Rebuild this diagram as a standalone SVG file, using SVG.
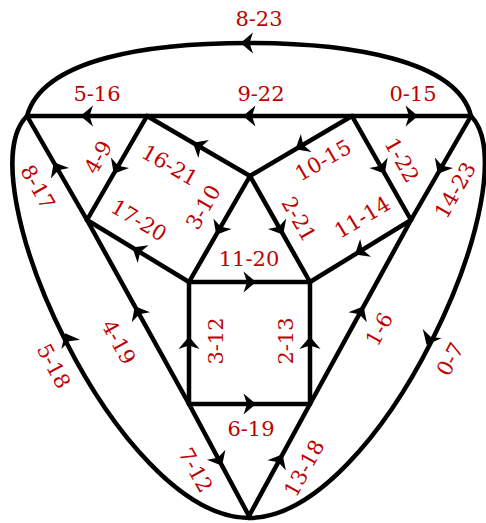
<svg xmlns="http://www.w3.org/2000/svg" xmlns:xlink="http://www.w3.org/1999/xlink" width="486" height="523" viewBox="0 0 486 523">
<style>
.e{fill:none;stroke:#000;stroke-width:4.5;stroke-linecap:round;stroke-linejoin:round}
.a{fill:#000;stroke:none}
.v{fill:#000;stroke:none}
.t{font-family:"DejaVu Serif","Liberation Serif",serif;font-size:21px;fill:#c00000;text-anchor:middle}
</style>
<defs>
<path id="ah" d="M6.5,0 L-6,-10.5 L-2.5,0 L-6,10.5 Z"/>
</defs>
<rect width="486" height="523" fill="#fff"/>
<g id="connectors">
<g id="e8-23"><path class="e" d="M27,116 C43,58 150,43 249,43 C350,43 457,60 471,116"/><use href="#ah" class="a" transform="translate(247,43) rotate(180)"/></g>
<g id="e5-18"><path class="e" d="M27,116 C-36,178 118,518 249,518"/><use href="#ah" class="a" transform="translate(68,339) rotate(243.4)"/></g>
<g id="e0-7"><path class="e" d="M471,116 C532,178 380,518 249,518"/><use href="#ah" class="a" transform="translate(429.5,339) rotate(116.5)"/></g>
<g id="e5-16"><path class="e" d="M27,116 L147,116"/><use href="#ah" class="a" transform="translate(87,116) rotate(180)"/></g>
<g id="e9-22"><path class="e" d="M147,116 L352,116"/><use href="#ah" class="a" transform="translate(249.5,116) rotate(180)"/></g>
<g id="e0-15"><path class="e" d="M352,116 L471,116"/><use href="#ah" class="a" transform="translate(411.5,116) rotate(0)"/></g>
<g id="e4-9"><path class="e" d="M147,116 L87,220"/><use href="#ah" class="a" transform="translate(117,168) rotate(120)"/></g>
<g id="e16-21"><path class="e" d="M147,116 L250,176"/><use href="#ah" class="a" transform="translate(198.5,146) rotate(210.2)"/></g>
<g id="e10-15"><path class="e" d="M352,116 L250,176"/><use href="#ah" class="a" transform="translate(301,146) rotate(149.5)"/></g>
<g id="e1-22"><path class="e" d="M352,116 L411,220"/><use href="#ah" class="a" transform="translate(381.5,168) rotate(60.4)"/></g>
<g id="e14-23"><path class="e" d="M471,116 L411,220"/><use href="#ah" class="a" transform="translate(441,168) rotate(120)"/></g>
<g id="e8-17"><path class="e" d="M27,116 L87,220"/><use href="#ah" class="a" transform="translate(57,168) rotate(240)"/></g>
<g id="e3-10"><path class="e" d="M250,176 L189,282"/><use href="#ah" class="a" transform="translate(219.5,229) rotate(119.9)"/></g>
<g id="e2-21"><path class="e" d="M250,176 L310,282"/><use href="#ah" class="a" transform="translate(280,229) rotate(60.5)"/></g>
<g id="e17-20"><path class="e" d="M87,220 L189,282"/><use href="#ah" class="a" transform="translate(138,251) rotate(211.3)"/></g>
<g id="e11-14"><path class="e" d="M411,220 L310,282"/><use href="#ah" class="a" transform="translate(360.5,251) rotate(148.5)"/></g>
<g id="e11-20"><path class="e" d="M189,282 L310,282"/><use href="#ah" class="a" transform="translate(249.5,282) rotate(0)"/></g>
<g id="e3-12"><path class="e" d="M189,282 L189,404"/><use href="#ah" class="a" transform="translate(189,343) rotate(-90)"/></g>
<g id="e2-13"><path class="e" d="M310,282 L310,404"/><use href="#ah" class="a" transform="translate(310,343) rotate(-90)"/></g>
<g id="e6-19"><path class="e" d="M189,404 L310,404"/><use href="#ah" class="a" transform="translate(249.5,404) rotate(0)"/></g>
<g id="e4-19"><path class="e" d="M87,220 L189,404"/><use href="#ah" class="a" transform="translate(138,312) rotate(241)"/></g>
<g id="e1-6"><path class="e" d="M411,220 L310,404"/><use href="#ah" class="a" transform="translate(360.5,312) rotate(-61.2)"/></g>
<g id="e7-12"><path class="e" d="M189,404 L249,516"/><use href="#ah" class="a" transform="translate(219,460) rotate(61.8)"/></g>
<g id="e13-18"><path class="e" d="M249,516 L310,404"/><use href="#ah" class="a" transform="translate(279.5,460) rotate(-61.4)"/></g>
</g>
<g id="nodes">
<g id="nA"><circle class="v" cx="27" cy="116" r="2"/></g>
<g id="nB"><circle class="v" cx="471" cy="116" r="2"/></g>
<g id="nC"><circle class="v" cx="249" cy="516" r="2"/></g>
<g id="nT1"><circle class="v" cx="147" cy="116" r="2"/></g>
<g id="nT2"><circle class="v" cx="352" cy="116" r="2"/></g>
<g id="nM"><circle class="v" cx="250" cy="176" r="2"/></g>
<g id="nJ1"><circle class="v" cx="87" cy="220" r="2"/></g>
<g id="nJ2"><circle class="v" cx="411" cy="220" r="2"/></g>
<g id="nTL"><circle class="v" cx="189" cy="282" r="2"/></g>
<g id="nTR"><circle class="v" cx="310" cy="282" r="2"/></g>
<g id="nBL"><circle class="v" cx="189" cy="404" r="2"/></g>
<g id="nBR"><circle class="v" cx="310" cy="404" r="2"/></g>
</g>
<g id="labels">
<text class="t" transform="translate(259,18)" dy="0.36em">8-23</text>
<text class="t" transform="translate(97,93)" dy="0.36em">5-16</text>
<text class="t" transform="translate(261,93)" dy="0.36em">9-22</text>
<text class="t" transform="translate(413,93)" dy="0.36em">0-15</text>
<text class="t" transform="translate(98,157) rotate(-60)" dy="0.36em">4-9</text>
<text class="t" transform="translate(170,165) rotate(30)" dy="0.36em">16-21</text>
<text class="t" transform="translate(323,160) rotate(-30)" dy="0.36em">10-15</text>
<text class="t" transform="translate(402,160) rotate(60)" dy="0.36em">1-22</text>
<text class="t" transform="translate(455,190) rotate(-60)" dy="0.36em">14-23</text>
<text class="t" transform="translate(38,187) rotate(60)" dy="0.36em">8-17</text>
<text class="t" transform="translate(139,220) rotate(31)" dy="0.36em">17-20</text>
<text class="t" transform="translate(203,207) rotate(-60)" dy="0.36em">3-10</text>
<text class="t" transform="translate(299,219) rotate(60)" dy="0.36em">2-21</text>
<text class="t" transform="translate(362,217) rotate(-31)" dy="0.36em">11-14</text>
<text class="t" transform="translate(249,258)" dy="0.36em">11-20</text>
<text class="t" transform="translate(215,341) rotate(-90)" dy="0.36em">3-12</text>
<text class="t" transform="translate(285,341) rotate(-90)" dy="0.36em">2-13</text>
<text class="t" transform="translate(119,342) rotate(61)" dy="0.36em">4-19</text>
<text class="t" transform="translate(379,329) rotate(-61)" dy="0.36em">1-6</text>
<text class="t" transform="translate(54,366) rotate(62)" dy="0.36em">5-18</text>
<text class="t" transform="translate(450,359) rotate(-62)" dy="0.36em">0-7</text>
<text class="t" transform="translate(251,428)" dy="0.36em">6-19</text>
<text class="t" transform="translate(196,470) rotate(61)" dy="0.36em">7-12</text>
<text class="t" transform="translate(304,468) rotate(-61)" dy="0.36em">13-18</text>
</g>
</svg>
